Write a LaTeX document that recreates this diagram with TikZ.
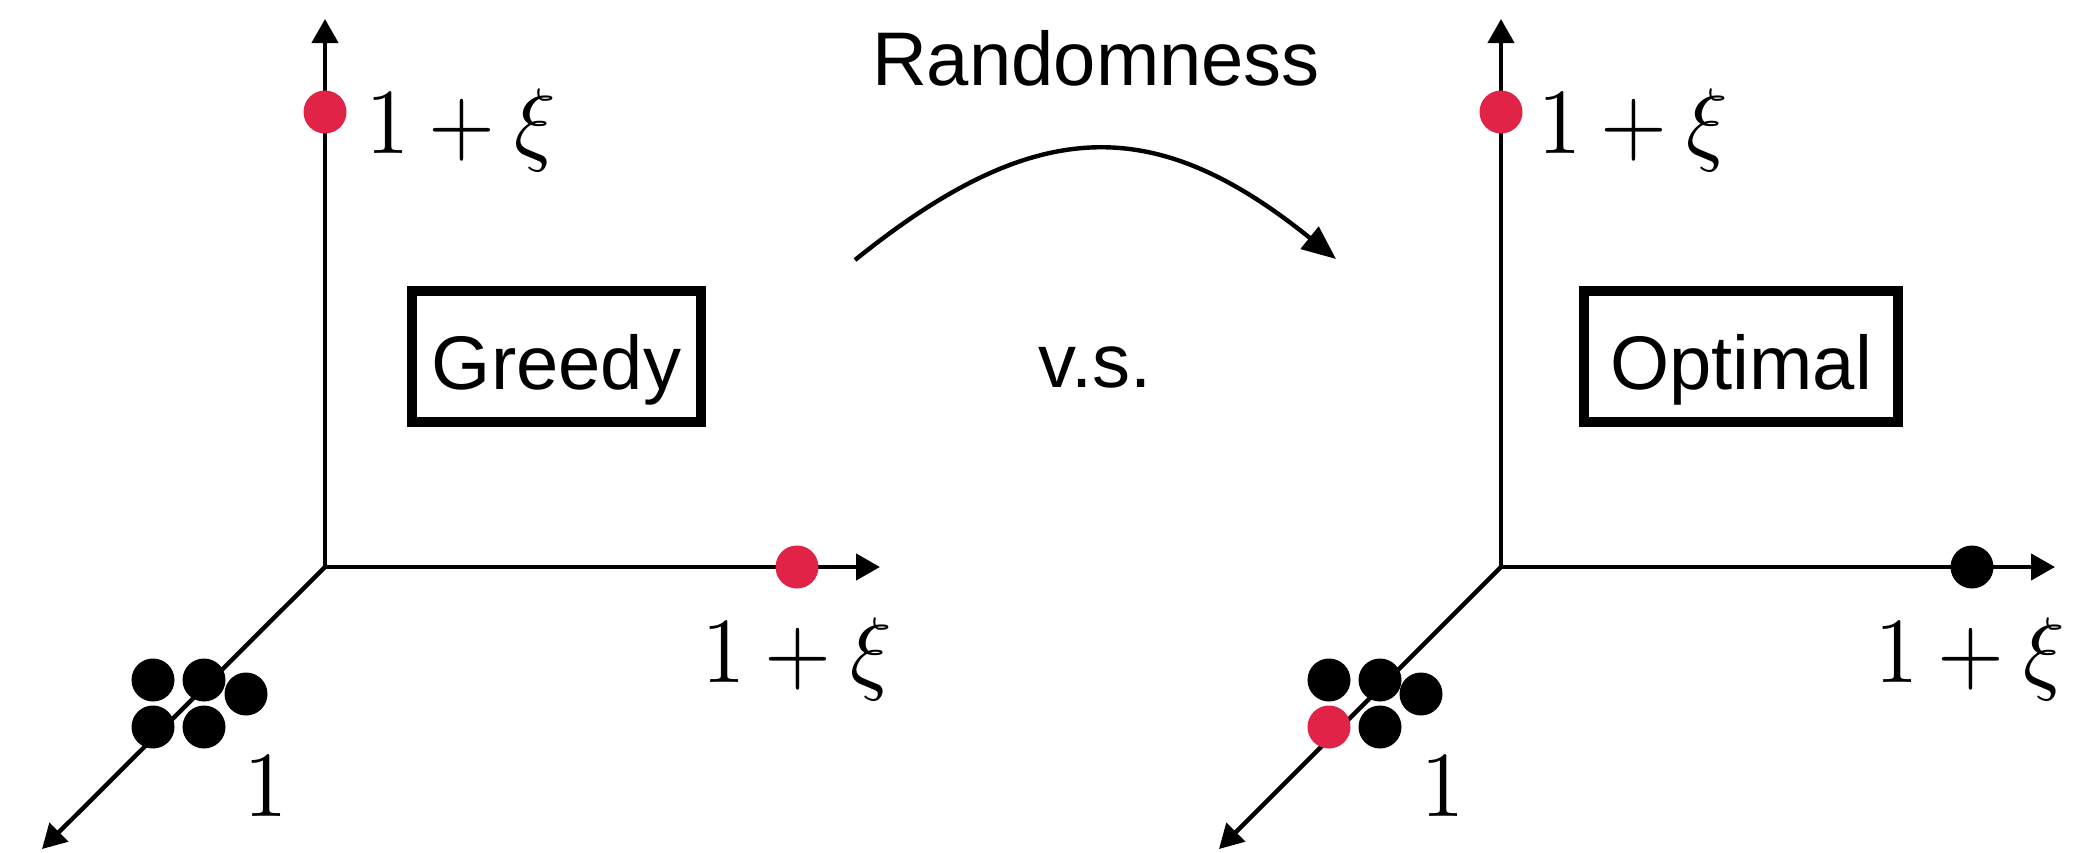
\documentclass[tikz,border=0pt]{standalone}
\usepackage{fontspec}
\newfontfamily\sansf{Liberation Sans}
\usetikzlibrary{arrows.meta}
\definecolor{dotred}{RGB}{225,35,72}
\begin{document}
\begin{tikzpicture}[x=0.5pt,y=-0.5pt,
  axis/.style={line width=2.2pt,-{Triangle[length=12pt,width=13pt]}},
  bdot/.style={circle,fill=black,inner sep=0pt,minimum size=21.5pt},
  rdot/.style={circle,fill=dotred,inner sep=0pt,minimum size=21.5pt},
  mathlbl/.style={anchor=base,inner sep=0pt,xscale=4.3,yscale=4.65},
  sanslbl/.style={anchor=base,inner sep=0pt,font=\sansf\fontsize{38}{45}\selectfont},
  algbox/.style={draw,line width=5pt,inner sep=0pt,minimum height=65.5pt,
     text height=36pt,text depth=3.5pt,font=\sansf\fontsize{38}{45}\selectfont}]
\useasboundingbox (0,0) rectangle (2100,852);
% left axes
\coordinate (O1) at (325,567);
\coordinate (Y1) at (325,19);
\coordinate (X1) at (880,567);
\coordinate (Z1) at (42,849);
\draw[axis] (O1) -- (Y1);
\draw[axis] (O1) -- (X1);
\draw[axis] (O1) -- (Z1);
% right axes
\coordinate (O2) at (1501,567);
\coordinate (Y2) at (1501,19);
\coordinate (X2) at (2055,567);
\coordinate (Z2) at (1219,849);
\draw[axis] (O2) -- (Y2);
\draw[axis] (O2) -- (X2);
\draw[axis] (O2) -- (Z2);
% left dots
\node[rdot] (ly) at (325,112) {};
\node[rdot] (lx) at (797,567) {};
\node[bdot] (la) at (153,680) {};
\node[bdot] (lb) at (204,680) {};
\node[bdot] (lc) at (246,694) {};
\node[bdot] (ld) at (153,727) {};
\node[bdot] (le) at (204,727) {};
% right dots
\node[rdot] (ry) at (1501,112) {};
\node[bdot] (rx) at (1972,567) {};
\node[bdot] (ra) at (1329,680) {};
\node[bdot] (rb) at (1380,680) {};
\node[bdot] (rc) at (1421,694) {};
\node[bdot] (rd) at (1380,727) {};
\node[rdot] (re) at (1329,727) {};
% labels
\node[mathlbl] (lyl) at (461,153) {$1+\xi$};
\node[mathlbl] (lxl) at (797,682) {$1+\xi$};
\node[mathlbl] (lzl) at (266,816) {$1$};
\node[mathlbl] (ryl) at (1633,153) {$1+\xi$};
\node[mathlbl] (rxl) at (1970,682) {$1+\xi$};
\node[mathlbl] (rzl) at (1443,816) {$1$};
% boxes
\node[algbox,minimum width=144.5pt] (greedy) at (556.5,356.5) {Greedy};
\node[algbox,minimum width=157pt] (optimal) at (1741,356.5) {Optimal};
% middle
\node[sanslbl] (rand) at (1096,85) {Randomness};
\node[sanslbl] (vs) at (1095,387) {v.s.};
\coordinate (c1) at (855,260);
\coordinate (c2) at (1336,259);
\draw[line width=2.2pt,-{Triangle[length=17pt,width=14pt]}] (c1) .. controls (1036,114) and (1155,113) .. (c2);
\end{tikzpicture}
\end{document}
